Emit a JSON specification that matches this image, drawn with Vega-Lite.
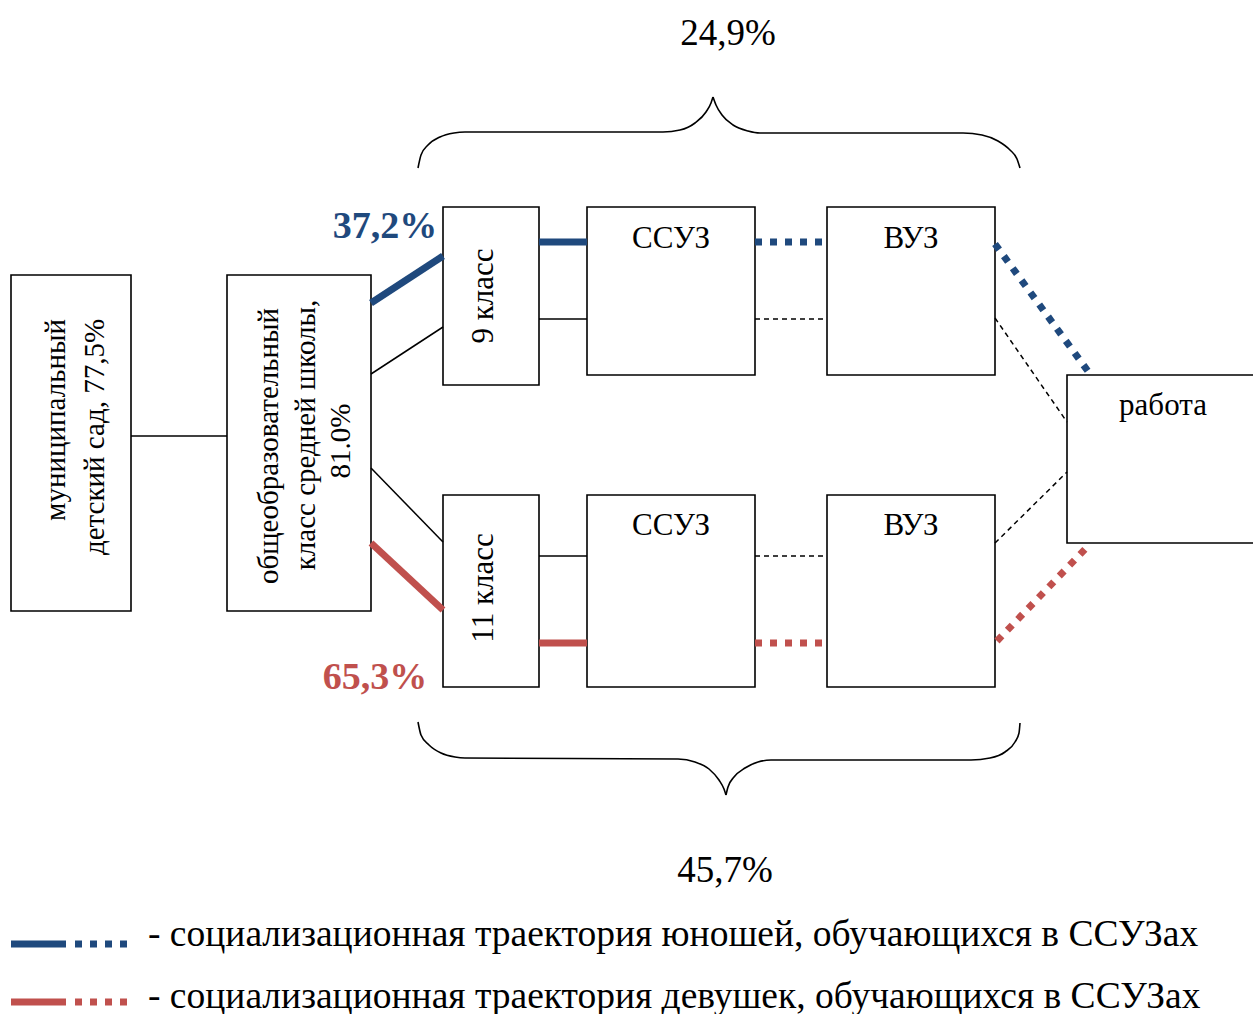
{
  "$schema": "https://vega.github.io/schema/vega-lite/v6.json",
  "autosize": "none",
  "width": 1253,
  "height": 1014,
  "padding": 0,
  "background": "white",
  "config": {"view": {"stroke": null}, "axis": {"disable": true}},
  "datasets": {
    "boxes": [
      {"name": "детский сад", "x1": 11, "x2": 131, "y1": 275, "y2": 611},
      {"name": "школа", "x1": 227, "x2": 371, "y1": 275, "y2": 611},
      {"name": "9 класс", "x1": 443, "x2": 539, "y1": 207, "y2": 385},
      {"name": "ССУЗ 9", "x1": 587, "x2": 755, "y1": 207, "y2": 375},
      {"name": "ВУЗ 9", "x1": 827, "x2": 995, "y1": 207, "y2": 375},
      {"name": "работа", "x1": 1067, "x2": 1256, "y1": 375, "y2": 543},
      {"name": "11 класс", "x1": 443, "x2": 539, "y1": 495, "y2": 687},
      {"name": "ССУЗ 11", "x1": 587, "x2": 755, "y1": 495, "y2": 687},
      {"name": "ВУЗ 11", "x1": 827, "x2": 995, "y1": 495, "y2": 687}
    ],
    "links": [
      {"kind": "thin", "x1": 131, "y1": 436, "x2": 227, "y2": 436},
      {"kind": "thin", "x1": 371, "y1": 374, "x2": 443, "y2": 327},
      {"kind": "thin", "x1": 371, "y1": 468, "x2": 443, "y2": 542},
      {"kind": "thin", "x1": 539, "y1": 319, "x2": 587, "y2": 319},
      {"kind": "thin", "x1": 539, "y1": 556, "x2": 587, "y2": 556},
      {"kind": "dashed", "x1": 755, "y1": 319, "x2": 827, "y2": 319},
      {"kind": "dashed", "x1": 995, "y1": 318, "x2": 1067, "y2": 422},
      {"kind": "dashed", "x1": 755, "y1": 556, "x2": 827, "y2": 556},
      {"kind": "dashed", "x1": 995, "y1": 543, "x2": 1067, "y2": 472},
      {"kind": "boys", "x1": 371, "y1": 303, "x2": 443, "y2": 256},
      {"kind": "boys", "x1": 539, "y1": 242, "x2": 587, "y2": 242},
      {"kind": "boys", "x1": 11, "y1": 944, "x2": 66, "y2": 944},
      {"kind": "boys_dot", "x1": 755, "y1": 242, "x2": 827, "y2": 242},
      {"kind": "boys_dot", "x1": 995, "y1": 244, "x2": 1090, "y2": 374},
      {"kind": "boys_dot", "x1": 75, "y1": 944, "x2": 131, "y2": 944},
      {"kind": "girls", "x1": 371, "y1": 543, "x2": 443, "y2": 610},
      {"kind": "girls", "x1": 539, "y1": 643, "x2": 587, "y2": 643},
      {"kind": "girls", "x1": 11, "y1": 1002, "x2": 66, "y2": 1002},
      {"kind": "girls_dot", "x1": 755, "y1": 643, "x2": 827, "y2": 643},
      {"kind": "girls_dot", "x1": 997, "y1": 641, "x2": 1089, "y2": 545},
      {"kind": "girls_dot", "x1": 75, "y1": 1002, "x2": 131, "y2": 1002}
    ],
    "braces": [
      {"part": "top-left", "i": 0, "x": 418, "y": 168},
      {"part": "top-left", "i": 1, "x": 421, "y": 155},
      {"part": "top-left", "i": 2, "x": 428, "y": 145},
      {"part": "top-left", "i": 3, "x": 440, "y": 137},
      {"part": "top-left", "i": 4, "x": 454, "y": 133},
      {"part": "top-left", "i": 5, "x": 465, "y": 132},
      {"part": "top-left", "i": 6, "x": 663, "y": 132},
      {"part": "top-left", "i": 7, "x": 680, "y": 130},
      {"part": "top-left", "i": 8, "x": 695, "y": 123},
      {"part": "top-left", "i": 9, "x": 706, "y": 112},
      {"part": "top-left", "i": 10, "x": 711, "y": 103},
      {"part": "top-left", "i": 11, "x": 713, "y": 97},
      {"part": "top-right", "i": 0, "x": 713, "y": 97},
      {"part": "top-right", "i": 1, "x": 716, "y": 105},
      {"part": "top-right", "i": 2, "x": 722, "y": 115},
      {"part": "top-right", "i": 3, "x": 733, "y": 125},
      {"part": "top-right", "i": 4, "x": 748, "y": 131},
      {"part": "top-right", "i": 5, "x": 760, "y": 133},
      {"part": "top-right", "i": 6, "x": 963, "y": 133},
      {"part": "top-right", "i": 7, "x": 982, "y": 135},
      {"part": "top-right", "i": 8, "x": 998, "y": 141},
      {"part": "top-right", "i": 9, "x": 1010, "y": 150},
      {"part": "top-right", "i": 10, "x": 1017, "y": 159},
      {"part": "top-right", "i": 11, "x": 1020, "y": 168},
      {"part": "bottom-left", "i": 0, "x": 418, "y": 722},
      {"part": "bottom-left", "i": 1, "x": 421, "y": 735},
      {"part": "bottom-left", "i": 2, "x": 429, "y": 745},
      {"part": "bottom-left", "i": 3, "x": 441, "y": 753},
      {"part": "bottom-left", "i": 4, "x": 455, "y": 757},
      {"part": "bottom-left", "i": 5, "x": 465, "y": 758},
      {"part": "bottom-left", "i": 6, "x": 678, "y": 759},
      {"part": "bottom-left", "i": 7, "x": 695, "y": 762},
      {"part": "bottom-left", "i": 8, "x": 709, "y": 769},
      {"part": "bottom-left", "i": 9, "x": 719, "y": 780},
      {"part": "bottom-left", "i": 10, "x": 724, "y": 789},
      {"part": "bottom-left", "i": 11, "x": 726, "y": 795},
      {"part": "bottom-right", "i": 0, "x": 726, "y": 795},
      {"part": "bottom-right", "i": 1, "x": 728, "y": 787},
      {"part": "bottom-right", "i": 2, "x": 734, "y": 777},
      {"part": "bottom-right", "i": 3, "x": 745, "y": 768},
      {"part": "bottom-right", "i": 4, "x": 758, "y": 762},
      {"part": "bottom-right", "i": 5, "x": 771, "y": 760},
      {"part": "bottom-right", "i": 6, "x": 971, "y": 760},
      {"part": "bottom-right", "i": 7, "x": 990, "y": 758},
      {"part": "bottom-right", "i": 8, "x": 1005, "y": 752},
      {"part": "bottom-right", "i": 9, "x": 1015, "y": 742},
      {"part": "bottom-right", "i": 10, "x": 1019, "y": 733},
      {"part": "bottom-right", "i": 11, "x": 1020, "y": 723}
    ],
    "labels": [
      {"kind": "box", "text": "ССУЗ", "x": 671, "y": 248},
      {"kind": "box", "text": "ВУЗ", "x": 911, "y": 248},
      {"kind": "box", "text": "ССУЗ", "x": 671, "y": 535},
      {"kind": "box", "text": "ВУЗ", "x": 911, "y": 535},
      {"kind": "box", "text": "работа", "x": 1163, "y": 415},
      {"kind": "pct", "text": "24,9%", "x": 728, "y": 45},
      {"kind": "pct", "text": "45,7%", "x": 725, "y": 882},
      {"kind": "boys", "text": "37,2%", "x": 385, "y": 238},
      {"kind": "girls", "text": "65,3%", "x": 375, "y": 689},
      {"kind": "rot", "text": "9 класс", "x": 493, "y": 296},
      {"kind": "rot", "text": "11 класс", "x": 493, "y": 588},
      {"kind": "rotsmall", "text": "муниципальный", "x": 65, "y": 420},
      {"kind": "rotsmall", "text": "детский сад, 77,5%", "x": 104, "y": 437},
      {"kind": "rotsmall", "text": "общеобразовательный", "x": 278, "y": 446},
      {"kind": "rotsmall", "text": "класс средней школы,", "x": 315, "y": 435},
      {"kind": "rotsmall", "text": "81.0%", "x": 350, "y": 441},
      {"kind": "legend", "text": "- социализационная траектория юношей, обучающихся в ССУЗах", "x": 148, "y": 946},
      {"kind": "legend", "text": "- социализационная траектория девушек, обучающихся в ССУЗах", "x": 148, "y": 1008}
    ]
  },
  "encoding": {},
  "layer": [
    {
      "data": {"name": "boxes"},
      "mark": {"type": "rect", "fill": "white", "stroke": "black", "strokeWidth": 1.6},
      "encoding": {
        "x": {"field": "x1", "type": "quantitative", "scale": {"domain": [0, 1253], "nice": false, "zero": false}, "axis": null},
        "x2": {"field": "x2"},
        "y": {"field": "y1", "type": "quantitative", "scale": {"domain": [0, 1014], "nice": false, "zero": false, "reverse": true}, "axis": null},
        "y2": {"field": "y2"}
      }
    },
    {
      "data": {"name": "links"},
      "transform": [{"filter": "datum.kind === 'thin'"}],
      "mark": {"type": "rule", "stroke": "black", "strokeWidth": 1.5},
      "encoding": {
        "x": {"field": "x1", "type": "quantitative"}, "x2": {"field": "x2"},
        "y": {"field": "y1", "type": "quantitative"}, "y2": {"field": "y2"}
      }
    },
    {
      "data": {"name": "links"},
      "transform": [{"filter": "datum.kind === 'dashed'"}],
      "mark": {"type": "rule", "stroke": "black", "strokeWidth": 1.5, "strokeDash": [5, 4]},
      "encoding": {
        "x": {"field": "x1", "type": "quantitative"}, "x2": {"field": "x2"},
        "y": {"field": "y1", "type": "quantitative"}, "y2": {"field": "y2"}
      }
    },
    {
      "data": {"name": "links"},
      "transform": [{"filter": "datum.kind === 'boys'"}],
      "mark": {"type": "rule", "stroke": "#1F497D", "strokeWidth": 7},
      "encoding": {
        "x": {"field": "x1", "type": "quantitative"}, "x2": {"field": "x2"},
        "y": {"field": "y1", "type": "quantitative"}, "y2": {"field": "y2"}
      }
    },
    {
      "data": {"name": "links"},
      "transform": [{"filter": "datum.kind === 'boys_dot'"}],
      "mark": {"type": "rule", "stroke": "#1F497D", "strokeWidth": 7, "strokeDash": [7, 8]},
      "encoding": {
        "x": {"field": "x1", "type": "quantitative"}, "x2": {"field": "x2"},
        "y": {"field": "y1", "type": "quantitative"}, "y2": {"field": "y2"}
      }
    },
    {
      "data": {"name": "links"},
      "transform": [{"filter": "datum.kind === 'girls'"}],
      "mark": {"type": "rule", "stroke": "#C0504D", "strokeWidth": 7},
      "encoding": {
        "x": {"field": "x1", "type": "quantitative"}, "x2": {"field": "x2"},
        "y": {"field": "y1", "type": "quantitative"}, "y2": {"field": "y2"}
      }
    },
    {
      "data": {"name": "links"},
      "transform": [{"filter": "datum.kind === 'girls_dot'"}],
      "mark": {"type": "rule", "stroke": "#C0504D", "strokeWidth": 7, "strokeDash": [7, 8]},
      "encoding": {
        "x": {"field": "x1", "type": "quantitative"}, "x2": {"field": "x2"},
        "y": {"field": "y1", "type": "quantitative"}, "y2": {"field": "y2"}
      }
    },
    {
      "data": {"name": "braces"},
      "mark": {"type": "line", "stroke": "black", "strokeWidth": 1.6, "interpolate": "monotone"},
      "encoding": {
        "x": {"field": "x", "type": "quantitative"},
        "y": {"field": "y", "type": "quantitative"},
        "detail": {"field": "part", "type": "nominal"},
        "order": {"field": "i", "type": "quantitative"}
      }
    },
    {
      "data": {"name": "labels"},
      "transform": [{"filter": "datum.kind === 'box'"}],
      "mark": {"type": "text", "font": "Liberation Serif", "fontSize": 31, "color": "black", "align": "center", "baseline": "alphabetic"},
      "encoding": {
        "x": {"field": "x", "type": "quantitative"},
        "y": {"field": "y", "type": "quantitative"},
        "text": {"field": "text"}
      }
    },
    {
      "data": {"name": "labels"},
      "transform": [{"filter": "datum.kind === 'pct'"}],
      "mark": {"type": "text", "font": "Liberation Serif", "fontSize": 37, "color": "black", "align": "center", "baseline": "alphabetic"},
      "encoding": {
        "x": {"field": "x", "type": "quantitative"},
        "y": {"field": "y", "type": "quantitative"},
        "text": {"field": "text"}
      }
    },
    {
      "data": {"name": "labels"},
      "transform": [{"filter": "datum.kind === 'boys'"}],
      "mark": {"type": "text", "font": "Liberation Serif", "fontSize": 38, "fontWeight": "bold", "color": "#1F497D", "align": "center", "baseline": "alphabetic"},
      "encoding": {
        "x": {"field": "x", "type": "quantitative"},
        "y": {"field": "y", "type": "quantitative"},
        "text": {"field": "text"}
      }
    },
    {
      "data": {"name": "labels"},
      "transform": [{"filter": "datum.kind === 'girls'"}],
      "mark": {"type": "text", "font": "Liberation Serif", "fontSize": 38, "fontWeight": "bold", "color": "#C0504D", "align": "center", "baseline": "alphabetic"},
      "encoding": {
        "x": {"field": "x", "type": "quantitative"},
        "y": {"field": "y", "type": "quantitative"},
        "text": {"field": "text"}
      }
    },
    {
      "data": {"name": "labels"},
      "transform": [{"filter": "datum.kind === 'rot'"}],
      "mark": {"type": "text", "font": "Liberation Serif", "fontSize": 31, "color": "black", "align": "center", "baseline": "alphabetic", "angle": 270},
      "encoding": {
        "x": {"field": "x", "type": "quantitative"},
        "y": {"field": "y", "type": "quantitative"},
        "text": {"field": "text"}
      }
    },
    {
      "data": {"name": "labels"},
      "transform": [{"filter": "datum.kind === 'rotsmall'"}],
      "mark": {"type": "text", "font": "Liberation Serif", "fontSize": 29, "color": "black", "align": "center", "baseline": "alphabetic", "angle": 270},
      "encoding": {
        "x": {"field": "x", "type": "quantitative"},
        "y": {"field": "y", "type": "quantitative"},
        "text": {"field": "text"}
      }
    },
    {
      "data": {"name": "labels"},
      "transform": [{"filter": "datum.kind === 'legend'"}],
      "mark": {"type": "text", "font": "Liberation Serif", "fontSize": 37.5, "color": "black", "align": "left", "baseline": "alphabetic"},
      "encoding": {
        "x": {"field": "x", "type": "quantitative"},
        "y": {"field": "y", "type": "quantitative"},
        "text": {"field": "text"}
      }
    }
  ]
}
